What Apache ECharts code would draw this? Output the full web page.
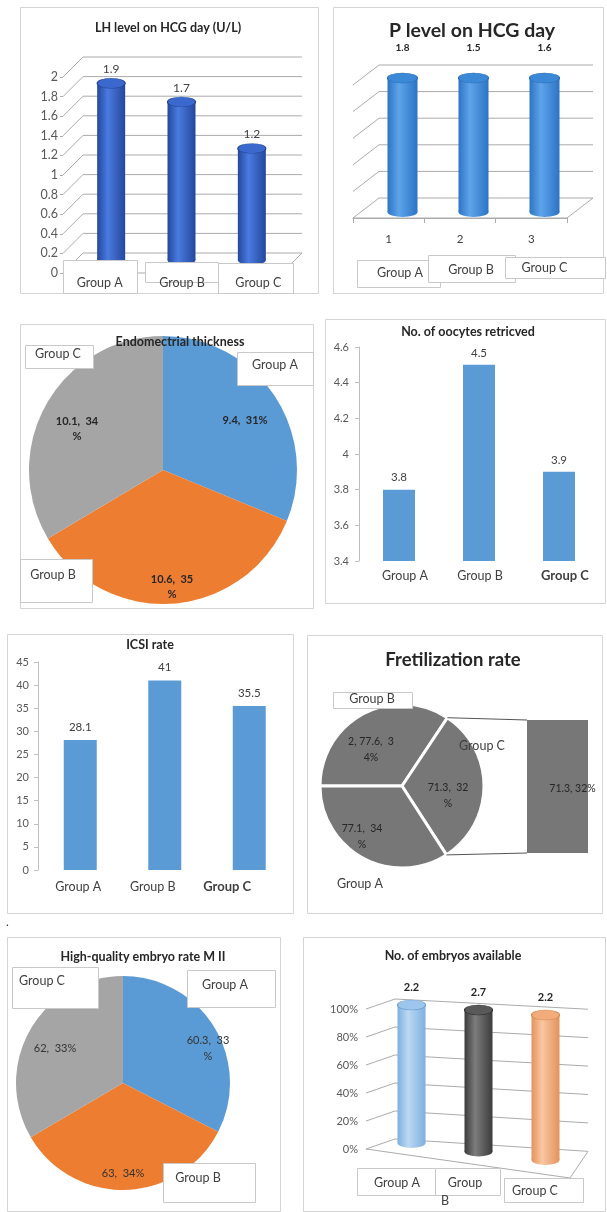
<!DOCTYPE html>
<html><head><meta charset="utf-8">
<script src="https://cdn.jsdelivr.net/npm/echarts@6/dist/echarts.min.js"></script>
<style>html,body{margin:0;padding:0;background:#fff}#chart{width:607px;height:1212px}</style>
</head><body><div id="chart"></div>
<script>
// ---------- data ----------
const groups = ['Group A', 'Group B', 'Group C'];
const lhValues = [1.9, 1.7, 1.2];
const lhTicks = [0, 0.2, 0.4, 0.6, 0.8, 1, 1.2, 1.4, 1.6, 1.8, 2];
const pValues = [1.8, 1.5, 1.6];
const pShare = [100, 100, 100];
const pCategories = ['1', '2', '3'];
const pTicks = [0, 20, 40, 60, 80, 100];
const endoValues = [9.4, 10.6, 10.1];
const oocyteValues = [3.8, 4.5, 3.9];
const icsiValues = [28.1, 41, 35.5];
const fretGroups = ['Group B', 'Group C', 'Group A'];
const fretValues = [77.6, 71.3, 77.1];
const fretPrefix = ['2, ', '', ''];
const hqValues = [60.3, 63, 62];
const embryoValues = [2.2, 2.7, 2.2];
const embryoShare = [100, 100, 100];
const embryoTicks = [0, 20, 40, 60, 80, 100];

// ---------- styles / layout ----------
const FONT = 'Lato, "Liberation Sans", sans-serif';
const pieColors = ['#5b9bd5', '#ed7d31', '#a5a5a5'];
const WALL = '#ababab';

const chart = echarts.init(document.getElementById('chart'), null, {renderer: 'canvas'});

function T(text, cx, cy, fs) {
  return {text, left: cx, top: cy - fs * 0.62, textAlign: 'center', textVerticalAlign: 'top', padding: 0,
    textStyle: {fontFamily: FONT, fontSize: fs, fontWeight: 'bold', color: '#262626'}};
}
function valAxis(grid, min, max, interval, extra) {
  return Object.assign({type: 'value', gridIndex: grid, min, max, interval,
    splitLine: {show: false}, axisLine: {show: false}, axisTick: {show: false}, axisLabel: {show: false}}, extra || {});
}
function catAxis(grid, data, extra) {
  return Object.assign({type: 'category', gridIndex: grid, data,
    axisLine: {show: false}, axisTick: {show: false}, axisLabel: {show: false}, splitLine: {show: false}}, extra || {});
}
function axisCats(names, shifts, styles) {
  return names.map((n, i) => {
    const dx = shifts[i][0], dy = shifts[i][1];
    const ts = Object.assign({padding: [Math.max(dy, 0), Math.max(-2 * dx, 0), 0, Math.max(2 * dx, 0)]}, (styles && styles[i]) || {});
    return {value: n, textStyle: ts};
  });
}
function catLabel(extra) {
  return Object.assign({show: true, interval: 0, fontFamily: FONT, fontSize: 12.5, color: '#404040', lineHeight: 14, verticalAlign: 'top'}, extra);
}
function wallRenderer(cfg) {
  return function (params, api) {
    const v = api.value(1);
    const y = api.coord([0, v])[1];
    const t = (v - cfg.min) / (cfg.max - cfg.min);
    const by = y + cfg.dy;
    const slope = cfg.slopeBot + (cfg.slopeTop - cfg.slopeBot) * t;
    const ry = by + slope * (cfg.rx - cfg.bx);
    const st = {stroke: WALL, lineWidth: 1};
    const ch = [
      {type: 'line', shape: {x1: cfg.fx, y1: y, x2: cfg.bx, y2: by}, style: st},
      {type: 'line', shape: {x1: cfg.bx, y1: by, x2: cfg.rx, y2: ry}, style: st}
    ];
    if (v === cfg.min) {
      ch.push({type: 'line', shape: {x1: cfg.rx, y1: ry, x2: cfg.floorX, y2: cfg.floorY}, style: st});
      ch.push({type: 'line', shape: {x1: cfg.fx, y1: y, x2: cfg.floorX, y2: cfg.floorY}, style: st});
    }
    return {type: 'group', children: ch};
  };
}
function cylinderRenderer(cfg) {
  return function (params, api) {
    const i = api.value(0), v = api.value(1);
    const p1 = api.coord([i, v]), p0 = api.coord([i, 0]);
    const cx = p1[0];
    let ty = p1[1], by = p0[1];
    if (cfg.skew) {
      ty += cfg.skew.top * (cx - cfg.skew.x0);
      by += cfg.skew.bottom * (cx - cfg.skew.x0);
    }
    const rx = cfg.width / 2, ry = cfg.ry;
    const c = cfg.colors[i % cfg.colors.length];
    const grad = () => new echarts.graphic.LinearGradient(0, 0, 1, 0, [
      {offset: 0, color: c.edge}, {offset: 0.38, color: c.mid}, {offset: 1, color: c.edge}]);
    return {type: 'group', children: [
      {type: 'circle', x: cx, y: by, scaleY: ry / rx, shape: {cx: 0, cy: 0, r: rx}, style: {fill: grad()}},
      {type: 'rect', shape: {x: cx - rx, y: ty, width: 2 * rx, height: Math.max(0, by - ty)}, style: {fill: grad()}},
      {type: 'circle', x: cx, y: ty, scaleY: ry / rx, shape: {cx: 0, cy: 0, r: rx},
        style: {fill: c.cap, stroke: c.rim, lineWidth: 1.2, strokeNoScale: true}},
      {type: 'text', x: cx, y: ty - ry - cfg.labelGap,
        style: {text: String(cfg.labels[i]), align: 'center', verticalAlign: 'bottom', fontFamily: FONT,
          fontSize: cfg.fontSize, fontWeight: cfg.fontWeight, fill: cfg.labelColor}}
    ]};
  };
}
function pieLabel(split, prefix, sep) {
  return function (p) {
    const s = (prefix ? prefix[p.dataIndex] : '') + p.value + sep + p.percent + '%';
    const k = split[p.dataIndex];
    return k ? s.slice(0, s.length - k) + '\n' + s.slice(s.length - k) : s;
  };
}
function posLayout(pos) {
  return function (p) {
    return {x: pos[p.dataIndex][0], y: pos[p.dataIndex][1], align: 'center', verticalAlign: 'middle'};
  };
}
function overlayPie(center, radius, startAngle, names, values, pos, extraLabel) {
  return {type: 'pie', center, radius, startAngle, clockwise: true, z: 60, silent: true,
    emphasis: {disabled: true}, labelLine: {show: false},
    itemStyle: {color: 'rgba(0,0,0,0)', borderWidth: 0},
    label: Object.assign({show: true, position: 'inside', formatter: '{b}', fontFamily: FONT, fontSize: 12.5, color: '#404040'}, extraLabel || {}),
    labelLayout: posLayout(pos),
    data: names.map((n, i) => ({name: n, value: values[i]}))};
}

// label placement config
const endoSplit = [0, 1, 1];
const endoLabelPos = [[245, 420], [172, 587], [77, 429]];
const endoNamePos = [[275, 365], [53, 575], [58, 354]];
const fretSplit = [2, 1, 1];
const fretLabelPos = [[371, 750], [448, 796], [362, 837]];
const fretNamePos = [[372, 699], [482, 746], [360, 884]];
const hqSplit = [1, 0, 0];
const hqLabelPos = [[208, 1048], [123, 1173], [55, 1048]];
const hqNamePos = [[225, 985], [198, 1178], [42, 981]];
const embryoWrap = [false, true, false];

// fretilization pie geometry for connector lines
const fretCenter = [402, 786], fretR = 82;
const fretSum = fretValues.reduce((a, b) => a + b, 0);
const cStart = (180 - 360 * fretValues[0] / fretSum) * Math.PI / 180;
const cEnd = (180 - 360 * (fretValues[0] + fretValues[1]) / fretSum) * Math.PI / 180;
const ptStart = [fretCenter[0] + fretR * Math.cos(cStart), fretCenter[1] - fretR * Math.sin(cStart)];
const ptEnd = [fretCenter[0] + fretR * Math.cos(cEnd), fretCenter[1] - fretR * Math.sin(cEnd)];
const secGrid = {left: 527, top: 720, width: 61, height: 133};
const fretCPercent = Math.round(fretValues[1] / fretSum * 100);

const frames = [[20, 7, 298, 286], [333, 7, 270, 286], [20, 324, 293, 284], [325, 319, 280, 284],
  [7, 634, 286, 279], [307, 635, 295, 278], [7, 937, 273, 274], [303, 937, 302, 274]];
const boxes = [[63, 260, 74, 33], [145, 262, 73, 20], [218, 263, 75, 30],
  [357, 260, 83, 27], [428, 255, 87, 27], [505, 257, 100, 21],
  [237, 352, 76, 33], [20, 559, 72, 43], [25, 345, 68, 23],
  [333, 692, 79, 16],
  [12, 967, 86, 41], [187, 970, 88, 37], [163, 1163, 92, 39],
  [357, 1168, 78, 27], [435, 1168, 65, 27], [504, 1178, 79, 24]];

const graphicEls = [];
frames.forEach(f => graphicEls.push({type: 'rect', z: 0, silent: true,
  shape: {x: f[0] + 0.5, y: f[1] + 0.5, width: f[2], height: f[3]}, style: {fill: 'none', stroke: '#d4d4d4', lineWidth: 1}}));
boxes.forEach(b => graphicEls.push({type: 'rect', z: 50, silent: true,
  shape: {x: b[0] + 0.5, y: b[1] + 0.5, width: b[2], height: b[3]}, style: {fill: '#ffffff', stroke: '#c9c9c9', lineWidth: 1}}));
graphicEls.push({type: 'line', z: 5, silent: true, shape: {x1: ptStart[0], y1: ptStart[1], x2: secGrid.left, y2: secGrid.top},
  style: {stroke: '#555', lineWidth: 1}});
graphicEls.push({type: 'line', z: 5, silent: true, shape: {x1: ptEnd[0], y1: ptEnd[1], x2: secGrid.left, y2: secGrid.top + secGrid.height},
  style: {stroke: '#555', lineWidth: 1}});
graphicEls.push({type: 'text', z: 5, silent: true, x: 6, y: 916, style: {text: '.', fontSize: 12, fill: '#333', fontFamily: FONT}});

const option = {
  animation: false,
  backgroundColor: '#ffffff',
  textStyle: {fontFamily: FONT},
  title: [
    T('LH level on HCG day (U/L)', 168, 29, 12.5),
    T('P level on HCG day', 472, 33, 19.5),
    T('Endomectrial thickness', 180, 343, 12.5),
    T('No. of oocytes retricved', 468, 333, 12.5),
    T('ICSI rate', 150, 646, 12.5),
    T('Fretilization rate', 453, 662, 18.5),
    T('High-quality embryo rate M II', 143, 958, 12.5),
    T('No. of embryos available', 453, 957, 12.5)
  ],
  grid: [
    {left: 63, top: 77, width: 232, height: 196},     // 0 LH front
    {left: 76, top: 74, width: 211, height: 186},     // 1 LH bars
    {left: 353, top: 85, width: 214, height: 133},    // 2 P front
    {left: 367, top: 78, width: 213, height: 134},    // 3 P bars
    {left: 359, top: 347, width: 240, height: 214},   // 4 oocytes
    {left: 38, top: 662, width: 253.5, height: 208},  // 5 ICSI
    Object.assign({}, secGrid),                       // 6 fret secondary bar
    {left: 359, top: 1009, width: 222, height: 140},  // 7 embryos front
    {left: 378, top: 1005, width: 201, height: 138}   // 8 embryos bars
  ],
  xAxis: [
    catAxis(0, axisCats(groups, [[-2, 0], [3, 0], [2, 0]]), {z: 60,
      axisLabel: catLabel({margin: 3, verticalAlign: 'middle'})}),
    catAxis(1, groups),
    catAxis(2, pCategories, {axisLine: {show: true, lineStyle: {color: WALL}},
      axisTick: {show: true, length: 5, lineStyle: {color: WALL}},
      axisLabel: catLabel({margin: 14, fontSize: 11.5})}),
    catAxis(3, axisCats(groups, [[-2.5, 5], [-2.5, 2], [0, 0]]), {z: 60,
      axisLabel: catLabel({margin: 49})}),
    catAxis(4, axisCats(groups, [[6, 0], [1, 0], [6, 0]], [null, null, {fontWeight: 'bold', fontSize: 13}]), {
      axisLabel: catLabel({margin: 8, fontSize: 12.5})}),
    catAxis(5, axisCats(groups, [[-2, 0], [-12, 0], [-22, 0]], [null, null, {fontWeight: 'bold', fontSize: 13}]), {
      axisLabel: catLabel({margin: 10, fontSize: 12.5})}),
    catAxis(6, [fretGroups[1]]),
    catAxis(7, axisCats(groups, [[1, 0], [-5, 0], [-9, 8]]), {z: 60,
      axisLabel: catLabel({margin: 25, lineHeight: 18,
        formatter: (v, idx) => embryoWrap[idx] ? v.replace(' ', '\n{sb|') + '}' : v,
        rich: {sb: {padding: [0, 40, 0, 0], fontFamily: FONT, fontSize: 12.5, color: '#404040', lineHeight: 18}}})}),
    catAxis(8, groups)
  ],
  yAxis: [
    valAxis(0, 0, 2, 0.2, {axisTick: {show: true, length: 3, lineStyle: {color: WALL}},
      axisLabel: {show: true, margin: 5, fontFamily: FONT, fontSize: 12.5, color: '#595959'}}),
    valAxis(1, 0, 2, 0.2),
    valAxis(2, 0, 100, 20),
    valAxis(3, 0, 100, 20),
    valAxis(4, 3.4, 4.6, 0.2, {axisLine: {show: true, lineStyle: {color: '#bfbfbf'}},
      axisTick: {show: true, length: 4, lineStyle: {color: '#bfbfbf'}},
      axisLabel: {show: true, margin: 10, fontFamily: FONT, fontSize: 11, color: '#595959',
        formatter: v => String(+v.toFixed(1))}}),
    valAxis(5, 0, 45, 5, {axisLine: {show: true, lineStyle: {color: '#bfbfbf'}},
      axisTick: {show: true, length: 4, lineStyle: {color: '#bfbfbf'}},
      axisLabel: {show: true, margin: 9, fontFamily: FONT, fontSize: 11, color: '#595959'}}),
    valAxis(6, 0, 'dataMax', null),
    valAxis(7, 0, 100, 20, {axisLabel: {show: true, margin: 1, fontFamily: FONT, fontSize: 11, color: '#595959', formatter: '{value}%'}}),
    valAxis(8, 0, 100, 20)
  ],
  series: [
    // LH level
    {type: 'custom', xAxisIndex: 0, yAxisIndex: 0, silent: true, z: 1,
      data: lhTicks.map(t => [0, t]),
      renderItem: wallRenderer({min: 0, max: 2, fx: 63, bx: 83, rx: 302, dy: -20, slopeTop: 0, slopeBot: 0, floorX: 282, floorY: 273})},
    {type: 'custom', xAxisIndex: 1, yAxisIndex: 1, z: 3,
      data: lhValues.map((v, i) => [i, v]),
      renderItem: cylinderRenderer({width: 28, ry: 5, labels: lhValues, labelGap: 3, fontSize: 12, fontWeight: 'normal', labelColor: '#404040',
        colors: [{edge: '#24479c', mid: '#4a7be0', cap: '#3b68cc', rim: '#22428f'}]})},
    // P level
    {type: 'custom', xAxisIndex: 2, yAxisIndex: 2, silent: true, z: 1,
      data: pTicks.map(t => [0, t]),
      renderItem: wallRenderer({min: 0, max: 100, fx: 353, bx: 379, rx: 593, dy: -20, slopeTop: 0, slopeBot: 0, floorX: 567, floorY: 218})},
    {type: 'custom', xAxisIndex: 3, yAxisIndex: 3, z: 3,
      data: pShare.map((v, i) => [i, v]),
      renderItem: cylinderRenderer({width: 30, ry: 5, labels: pValues, labelGap: 20, fontSize: 10, fontWeight: 'bold', labelColor: '#262626',
        colors: [{edge: '#2c74c4', mid: '#5ea4ea', cap: '#3b88d6', rim: '#2a6cb5'}]})},
    // Endometrial thickness
    {type: 'pie', center: [163, 470], radius: 134, startAngle: 90, clockwise: true, percentPrecision: 0, z: 2,
      emphasis: {disabled: true}, labelLine: {show: false},
      data: groups.map((g, i) => ({name: g, value: endoValues[i], itemStyle: {color: pieColors[i]}})),
      label: {show: true, position: 'inside', formatter: pieLabel(endoSplit, null, ',  '), fontFamily: FONT,
        fontSize: 11, fontWeight: 'bold', color: '#262626', lineHeight: 15},
      labelLayout: posLayout(endoLabelPos)},
    overlayPie([163, 470], 134, 90, groups, endoValues, endoNamePos),
    // Oocytes
    {type: 'bar', xAxisIndex: 4, yAxisIndex: 4, data: oocyteValues, barWidth: 32, itemStyle: {color: '#5b9bd5'},
      label: {show: true, position: 'top', distance: 6, fontFamily: FONT, fontSize: 11.5, color: '#404040'}},
    // ICSI
    {type: 'bar', xAxisIndex: 5, yAxisIndex: 5, data: icsiValues, barWidth: 33, itemStyle: {color: '#5b9bd5'},
      label: {show: true, position: 'top', distance: 7, fontFamily: FONT, fontSize: 11.5, color: '#404040'}},
    // Fretilization rate
    {type: 'pie', center: fretCenter, radius: fretR, startAngle: 180, clockwise: true, percentPrecision: 0, z: 2,
      emphasis: {disabled: true}, labelLine: {show: false},
      itemStyle: {color: '#777777', borderColor: '#ffffff', borderWidth: 3},
      data: fretGroups.map((g, i) => ({name: g, value: fretValues[i]})),
      label: {show: true, position: 'inside', formatter: pieLabel(fretSplit, fretPrefix, ',  '), fontFamily: FONT,
        fontSize: 10.5, color: '#262626', lineHeight: 16},
      labelLayout: posLayout(fretLabelPos)},
    overlayPie(fretCenter, fretR, 180, fretGroups, fretValues, fretNamePos),
    {type: 'bar', xAxisIndex: 6, yAxisIndex: 6, data: [fretValues[1]], barWidth: '100%', itemStyle: {color: '#777777'},
      label: {show: true, position: 'inside', offset: [15, 2], fontFamily: FONT, fontSize: 10.5, color: '#262626',
        formatter: p => p.value + ', ' + fretCPercent + '%'}},
    // High-quality embryo rate
    {type: 'pie', center: [123, 1083], radius: 107, startAngle: 90, clockwise: true, percentPrecision: 0, z: 2,
      emphasis: {disabled: true}, labelLine: {show: false},
      data: groups.map((g, i) => ({name: g, value: hqValues[i], itemStyle: {color: pieColors[i]}})),
      label: {show: true, position: 'inside', formatter: pieLabel(hqSplit, null, ',  '), fontFamily: FONT,
        fontSize: 11, color: '#333333', lineHeight: 16},
      labelLayout: posLayout(hqLabelPos)},
    overlayPie([123, 1083], 107, 90, groups, hqValues, hqNamePos),
    // Embryos available
    {type: 'custom', xAxisIndex: 7, yAxisIndex: 7, silent: true, z: 1,
      data: embryoTicks.map(t => [0, t]),
      renderItem: wallRenderer({min: 0, max: 100, fx: 366, bx: 395, rx: 588, dy: -10, slopeTop: 0.053, slopeBot: 0.064, floorX: 570, floorY: 1178})},
    {type: 'custom', xAxisIndex: 8, yAxisIndex: 8, z: 3,
      data: embryoShare.map((v, i) => [i, v]),
      renderItem: cylinderRenderer({width: 28, ry: 5, labels: embryoValues, labelGap: 7, fontSize: 11, fontWeight: 'bold', labelColor: '#262626',
        skew: {x0: 412, top: 0.075, bottom: 0.127},
        colors: [{edge: '#7eb0e0', mid: '#bcd9f3', cap: '#9ec6ec', rim: '#6c9dd0'},
          {edge: '#3c3c3c', mid: '#7c7c7c', cap: '#595959', rim: '#333333'},
          {edge: '#e3935d', mid: '#f9c7a2', cap: '#f2ab7a', rim: '#d6874f'}]})}
  ],
  graphic: {elements: graphicEls}
};
chart.setOption(option);
</script>
</body></html>
